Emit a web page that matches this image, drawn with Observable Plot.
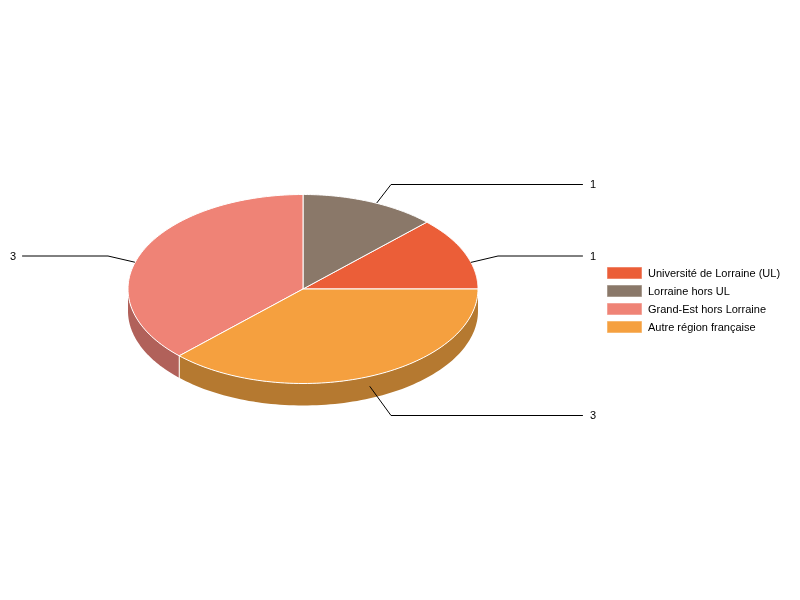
<!DOCTYPE html>
<html>
<head>
<meta charset="utf-8">
<style>html,body{margin:0;padding:0;background:#fff}svg{display:block;will-change:transform}</style>
<script src="https://cdn.jsdelivr.net/npm/d3@7"></script>
<script src="https://cdn.jsdelivr.net/npm/@observablehq/plot@0.6"></script>
</head>
<body>
<script>
const categories = ["Université de Lorraine (UL)", "Lorraine hors UL", "Grand-Est hors Lorraine", "Autre région française"];
const values = [1, 1, 3, 3];
const colors = ["#EB5E38", "#8A7869", "#EF8376", "#F5A03F"];
const wallColors = ["#AE4629", "#66594E", "#B1615A", "#B57930"];

// Layout of the pie (pixels of the 800x600 frame)
const cx = 302.5, cy = 288.5, rx = 175, ry = 94.5, depth = 22;
const legendX = 607, legendW = 35, legendH = 12, legendTop = 273, legendStep = 18, legendTextX = 647.5;
// Leader layout per slice: offset of the start from the rim, elbow offset from centre, label line y offset, label x
const leaderStart = [[6.5, 9.5], [7, 1], [-6.8, 9.3], [0, 10.3]];
const leaderElbowDx = [195, 88, -195, 88];
const leaderDy = [-33, -104.5, -33, 126.5];
const leaderEndX = [582, 582, 22, 582];
const labelX = [589.5, 589.5, 9.5, 589.5];

const arcs = d3.pie().sort(null).startAngle(Math.PI / 2).endAngle(Math.PI / 2 - 2 * Math.PI)(values);
const px = a => cx + rx * Math.sin(a);
const py = a => cy - ry * Math.cos(a);
const sample = (a0, a1, n = 90) => d3.range(n + 1).map(i => a0 + (a1 - a0) * i / n);

const topPolys = arcs.map(s => {
  const rim = sample(s.startAngle, s.endAngle).map(a => ({x: px(a), y: py(a)}));
  return [{x: cx, y: cy}, ...rim, {x: cx, y: cy}];
});
const wallPolys = arcs.map((s, i) => {
  const hi = Math.min(s.startAngle, -Math.PI / 2), lo = Math.max(s.endAngle, -1.5 * Math.PI);
  if (hi <= lo) return null;
  const a = sample(hi, lo);
  return {i, pts: [...a.map(t => ({x: px(t), y: py(t)})), ...a.reverse().map(t => ({x: px(t), y: py(t) + depth}))]};
}).filter(Boolean);
const seams = arcs.filter(s => Math.cos(s.startAngle) < -0.01).map(s => [
  {x: px(s.startAngle), y: py(s.startAngle)},
  {x: px(s.startAngle), y: py(s.startAngle) + depth}
]);
const leaders = arcs.map((s, i) => {
  const m = (s.startAngle + s.endAngle) / 2, y = cy + leaderDy[i];
  return [
    {x: px(m) + leaderStart[i][0], y: py(m) + leaderStart[i][1]},
    {x: cx + leaderElbowDx[i], y},
    {x: leaderEndX[i], y}
  ];
});
const labels = values.map((v, i) => ({text: String(v), x: labelX[i], y: cy + leaderDy[i]}));
const legend = categories.map((c, i) => ({c, color: colors[i], y: legendTop + i * legendStep}));

const font = "'Liberation Sans', Arial, sans-serif";
const chart = Plot.plot({
  width: 800,
  height: 600,
  margin: 0,
  x: {type: "identity", axis: null},
  y: {type: "identity", axis: null},
  style: {fontFamily: font, background: "transparent"},
  marks: [
    ...wallPolys.map(w => Plot.line(w.pts, {x: "x", y: "y", fill: wallColors[w.i], stroke: "none"})),
    ...seams.map(p => Plot.line(p, {x: "x", y: "y", stroke: "#fff", strokeWidth: 1})),
    ...topPolys.map((p, i) => Plot.line(p, {x: "x", y: "y", fill: colors[i], stroke: "#fff", strokeWidth: 1})),
    ...leaders.map(p => Plot.line(p, {x: "x", y: "y", stroke: "#000", strokeWidth: 1})),
    Plot.text(labels, {x: "x", y: "y", text: "text", textAnchor: "start", fontSize: 11, fill: "#000"}),
    Plot.rect(legend, {x1: legendX, x2: legendX + legendW, y1: d => d.y - legendH / 2, y2: d => d.y + legendH / 2, fill: "color", stroke: "#fff", strokeOpacity: 0.5}),
    Plot.text(legend, {x: legendTextX, y: d => d.y - 0.5, text: "c", textAnchor: "start", fontSize: 11, fill: "#000"})
  ]
});
document.body.appendChild(chart);
</script>
</body>
</html>
